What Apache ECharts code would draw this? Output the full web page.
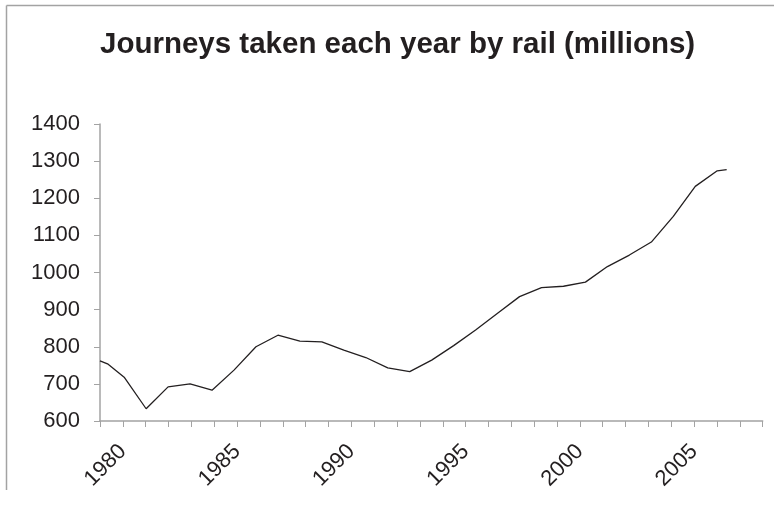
<!DOCTYPE html>
<html>
<head>
<meta charset="utf-8">
<script src="https://cdn.jsdelivr.net/npm/echarts@6/dist/echarts.min.js"></script>
<style>
  html, body { margin: 0; padding: 0; background: #ffffff; }
  #chart { width: 774px; height: 507px; }
</style>
</head>
<body>
<div id="chart"></div>
<script>
// Passenger rail journeys per year, millions
const years = [1978.9, 1979.27, 1980, 1981, 1982, 1983, 1984, 1985, 1986, 1987, 1988, 1989,
  1990, 1991, 1992, 1993, 1994, 1995, 1996, 1997, 1998, 1999, 2000, 2001, 2002, 2003,
  2004, 2005, 2006, 2007, 2007.43];
const journeys = [762, 753, 718, 633, 692, 700, 683, 737, 800, 831, 815, 813,
  791, 771, 743, 733, 764, 803, 845, 890, 935, 959, 963, 974, 1016, 1047,
  1082, 1151, 1232, 1274, 1277];

// Year tick labels along the bottom axis
const yearLabels = [1980, 1985, 1990, 1995, 2000, 2005];
// Vertical axis range and step
const yMin = 600, yMax = 1400, yStep = 100;

const titleText = 'Journeys taken each year by rail (millions)';

const ink = '#231f20';
const axisGrey = '#a3a3a3';
const font = '"Liberation Sans", Arial, Helvetica, sans-serif';

const chart = echarts.init(document.getElementById('chart'), null, { renderer: 'canvas' });

chart.setOption({
  animation: false,
  backgroundColor: '#ffffff',
  title: {
    text: titleText,
    left: 100,
    top: 30,
    padding: 0,
    textStyle: { fontFamily: font, fontSize: 29.5, fontWeight: 'bold', color: ink }
  },
  graphic: [
    { type: 'line', silent: true, shape: { x1: 6.5, y1: 5.5, x2: 6.5, y2: 490 },
      style: { stroke: axisGrey, lineWidth: 1.5 } },
    { type: 'line', silent: true, shape: { x1: 6.5, y1: 5.5, x2: 774, y2: 5.5 },
      style: { stroke: axisGrey, lineWidth: 1.5 } }
  ],
  grid: { left: 100, right: 11.3, top: 124, bottom: 86, containLabel: false },
  xAxis: [
    {
      type: 'value',
      position: 'bottom',
      min: 1979,
      max: 2008,
      interval: 1,
      splitLine: { show: false },
      axisLine: { show: true, lineStyle: { color: axisGrey, width: 1.5 } },
      axisTick: { show: true, length: 6, lineStyle: { color: axisGrey, width: 1 } },
      axisLabel: {
        rotate: 45,
        align: 'right',
        verticalAlign: 'middle',
        padding: [0, 0, 13, 0],
        margin: 27,
        fontFamily: font,
        fontSize: 22,
        color: ink,
        showMinLabel: true,
        showMaxLabel: true,
        formatter: v => (yearLabels.indexOf(Math.round(v)) >= 0 ? String(Math.round(v)) : '')
      }
    },
    {
      // time scale of the plotted series
      type: 'value',
      min: 1978.9,
      max: 2009.07,
      show: false
    }
  ],
  yAxis: {
    type: 'value',
    min: yMin,
    max: yMax,
    interval: yStep,
    splitLine: { show: false },
    axisLine: { show: true, lineStyle: { color: axisGrey, width: 1.5 } },
    axisTick: { show: true, length: 6, lineStyle: { color: axisGrey, width: 1 } },
    axisLabel: {
      margin: 20, fontFamily: font, fontSize: 22, color: ink,
      formatter: v => String(v)
    }
  },
  series: [{
    type: 'line',
    xAxisIndex: 1,
    data: years.map((y, i) => [y, journeys[i]]),
    showSymbol: false,
    symbol: 'none',
    lineStyle: { color: ink, width: 1.3 },
    clip: false
  }]
});
</script>
</body>
</html>
